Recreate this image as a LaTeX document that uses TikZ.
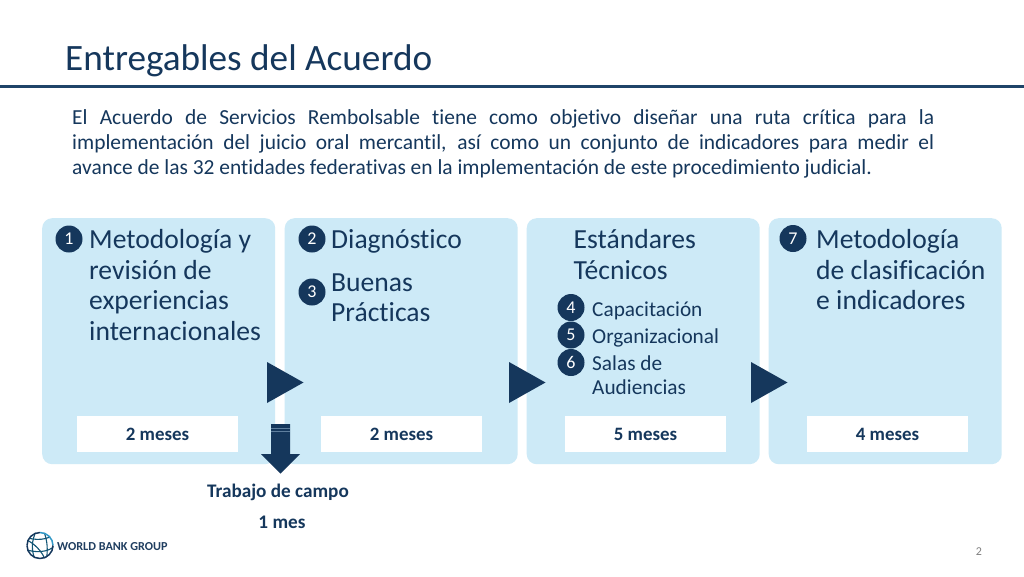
\documentclass[tikz,border=0pt]{standalone}
\usepackage{fontspec}
\setmainfont[Ligatures=NoCommon]{Carlito}
\usetikzlibrary{calc}
\definecolor{navy}{HTML}{15375C}
\definecolor{panel}{HTML}{CDEAF7}
\definecolor{rulec}{HTML}{1F4468}
\definecolor{band}{HTML}{5F7F9E}
\tikzset{
 panelbox/.style={fill=panel,draw=none,rounded corners=10pt,minimum width=233pt,minimum height=246pt,anchor=north west,inner sep=0},
 timebox/.style={fill=white,draw=none,minimum width=161pt,minimum height=36pt,inner sep=0,font=\fontsize{18.9}{20}\selectfont\bfseries,text=navy},
 numdot/.style={circle,fill=navy,minimum size=27pt,inner sep=0,text=white,font=\fontsize{18}{18}\selectfont},
 headtxt/.style={anchor=base west,inner sep=0,text=navy},
 subtxt/.style={anchor=base west,inner sep=0,text=navy},
 playtri/.style={fill=navy,draw=none},
 capt/.style={inner sep=0,text=navy,font=\fontsize{19.2}{20}\selectfont\bfseries,anchor=base}
}
\begin{document}
\begin{tikzpicture}[x=1pt,y=-1pt]
\useasboundingbox (0,0) rectangle (1024,576);
\fill[white] (0,0) rectangle (1024,576);
\node[anchor=base west,inner sep=0,text=navy,font=\fontsize{37.2}{40}\selectfont] (title) at (65,70) {Entregables del Acuerdo};
\coordinate (r1) at (0,86.5); \coordinate (r2) at (1024,86.5);
\draw[rulec,line width=2.6pt] (r1) -- (r2);
\node[anchor=base west,inner sep=0,text=navy] (intro) at (72,124) {\parbox[t]{862pt}{\fontsize{21.45}{25.3}\selectfont El Acuerdo de Servicios Rembolsable tiene como objetivo diseñar una ruta crítica para la\linebreak implementación del juicio oral mercantil, así como un conjunto de indicadores para medir el\linebreak avance de las 32 entidades federativas en la implementación de este procedimiento judicial.}};

\node[panelbox] (p1) at (42,218) {};
\node[panelbox] (p2) at (284.5,218) {};
\node[panelbox] (p3) at (526.5,218) {};
\node[panelbox] (p4) at (768.5,218) {};

\node[timebox] (t1) at (157.5,434) {2 meses};
\node[timebox] (t2) at (401.5,434) {2 meses};
\node[timebox] (t3) at (645.5,434) {5 meses};
\node[timebox] (t4) at (887.5,434) {4 meses};

\foreach \x in {267,509,751}{
 \fill[playtri] (\x,362) -- (\x+36.5,382.5) -- (\x,403) -- cycle;
}

% down arrow
\fill[navy] (271,424) -- (290,424) -- (290,454) -- (300,454) -- (280.5,473.5) -- (261,454) -- (271,454) -- cycle;
\fill[band] (271,428.3) rectangle (290,429.3);
\fill[band] (271,430.8) rectangle (290,431.4);

\node[numdot] (n1) at (69,239) {1};
\node[numdot] (n2) at (312,239) {2};
\node[numdot] (n3) at (312,292) {3};
\node[numdot] (n4) at (571,307.5) {4};
\node[numdot] (n5) at (571,335) {5};
\node[numdot] (n6) at (571,362.5) {6};
\node[numdot] (n7) at (793,238.5) {7};

\node[headtxt] (h1) at (89,248.5) {\parbox[t]{190pt}{\raggedright\fontsize{27.6}{30.6}\selectfont Metodología y\\revisión de\\experiencias\\internacionales}};
\node[headtxt] (h2) at (331,248.5) {\parbox[t]{180pt}{\raggedright\fontsize{27.6}{30.6}\selectfont Diagnóstico}};
\node[headtxt] (h3) at (331,291) {\parbox[t]{180pt}{\raggedright\fontsize{27.6}{30.6}\selectfont Buenas\\Prácticas}};
\node[headtxt] (h4) at (573.5,248.5) {\parbox[t]{180pt}{\raggedright\fontsize{27.6}{30.6}\selectfont Estándares\\Técnicos}};
\node[headtxt] (h7) at (816,248.5) {\parbox[t]{180pt}{\raggedright\fontsize{27.6}{30.6}\selectfont Metodología\\de clasificación\\e indicadores}};

\node[subtxt] (s4) at (592,316) {\parbox[t]{160pt}{\raggedright\fontsize{21.3}{24}\selectfont Capacitación}};
\node[subtxt] (s5) at (592,343.5) {\parbox[t]{160pt}{\raggedright\fontsize{21.3}{24}\selectfont Organizacional}};
\node[subtxt] (s6) at (592,370.5) {\parbox[t]{160pt}{\raggedright\fontsize{21.3}{24}\selectfont Salas de\\Audiencias}};

\node[capt] (c1) at (278,497) {Trabajo de campo};
\node[capt] (c2) at (282,528) {1 mes};

% logo
\begin{scope}[shift={(40,545.5)}]
 \clip (0,0) circle (13.6);
 \foreach \a in {-60,-25,10}{\draw[navy!85!cyan,line width=1.1pt] (-16,\a*0.35) .. controls (-5,\a*0.35+4) and (8,\a*0.35+4) .. (16,\a*0.35-4);}
 \draw[navy!85!cyan,line width=1.1pt] (-3,-16) .. controls (-9,-5) and (-9,6) .. (-4,16);
 \draw[navy!85!cyan,line width=1.1pt] (3,-16) .. controls (8,-5) and (8,6) .. (6,16);
 \draw[navy!85!cyan,line width=1.1pt] (-14,-6) .. controls (-6,-2) and (2,5) .. (6,16);
\end{scope}
\draw[navy,line width=1.5pt] (27,545.5) arc[start angle=180,end angle=90,radius=13];
\draw[navy,line width=1.5pt] (27,545.5) arc[start angle=180,end angle=270,radius=13];
\draw[cyan!70!navy,line width=1.5pt] (40,532.5) arc[start angle=-90,end angle=0,radius=13];
\draw[navy,line width=1.5pt] (53,545.5) arc[start angle=0,end angle=90,radius=13];
\node[anchor=base west,inner sep=0,text=navy!90!gray,font=\fontsize{12.2}{14}\selectfont\bfseries] (logo) at (57,550) {WORLD BANK GROUP};

\node[anchor=base,inner sep=0,text=gray,font=\fontsize{12}{14}\selectfont] (pg) at (979,555) {2};
\end{tikzpicture}
\end{document}
